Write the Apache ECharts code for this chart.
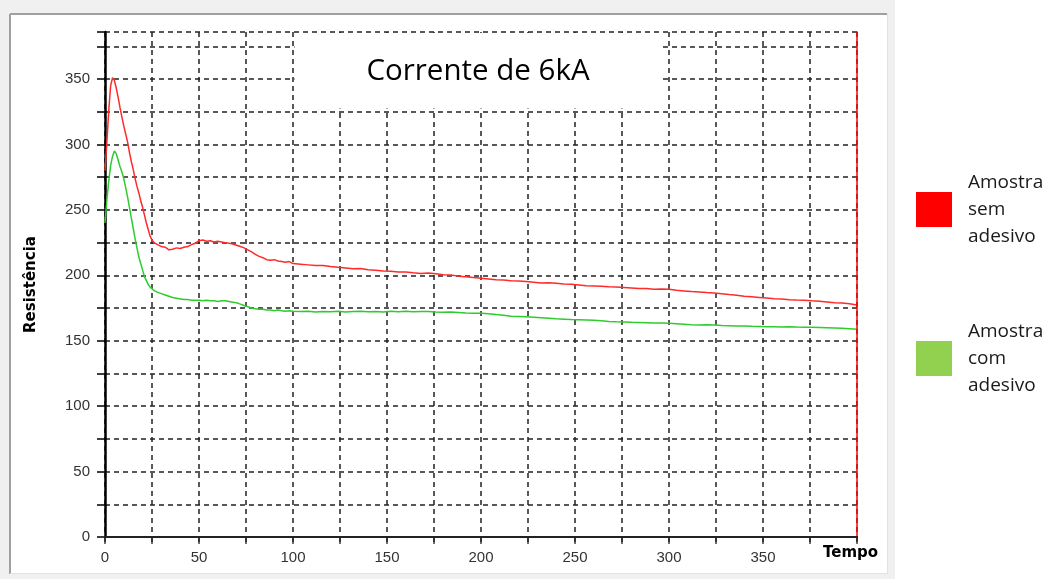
<!DOCTYPE html>
<html><head><meta charset="utf-8">
<script src="https://cdn.jsdelivr.net/npm/echarts@6/dist/echarts.min.js"></script>
<style>html,body{margin:0;padding:0;background:#fff}#c{width:1052px;height:579px}</style>
</head><body><div id="c"></div>
<script>
const tempo = [0,1,2,3,4,5,6,7,8,9,10,11,12,13,14,15,16,17,18,19,20,21,22,23,24,25,26,27,28,29,30,
  32,34,36,38,40,42,44,46,48,50,52,54,56,58,60,62,64,66,68,70,72,74,76,78,80,82,84,86,88,90,92,94,96,98,100,
  104,108,112,116,120,124,128,132,136,140,144,148,152,156,160,164,168,172,176,180,184,188,192,196,200,
  204,208,212,216,220,224,228,232,236,240,244,248,252,256,260,264,268,272,276,280,284,288,292,296,300,
  304,308,312,316,320,324,328,332,336,340,344,348,352,356,360,364,368,372,376,380,384,388,392,396,400];
const semAdesivo = [280,302,326,345,351,349,343,336,328,321,314,308,302,294,287,281,274,268,263,257,252,246,240,235,230,227,225,224,223.5,222.5,222,
  221.5,219.5,220,221,220.5,221.5,222,223.5,224.5,226.5,227,226,226.5,225.5,226,225.5,225,224.5,224,223,222,221,219.5,218,216,214.5,213.5,212,211.5,212,211,210.5,210,210.5,209,
  208.5,208,207.5,207.6,206.8,206.2,205.7,205,205.2,204.2,203.8,203.4,203.1,202.5,202.6,202,201.5,201.8,201.2,200.5,200.2,199.4,199,198.3,197.8,
  197.2,196.6,196.4,195.8,195.6,195.3,194.8,194.2,194.3,194,193.4,193.1,192.7,192.1,191.9,191.6,191.2,191.1,190.8,190.4,190,189.9,189.4,189.6,189.3,
  188.6,188.1,187.6,187.3,186.8,186.5,186,185.3,184.8,184.1,183.6,183.1,182.6,182.1,181.9,181.4,181.1,180.9,180.5,180.2,179.7,179.1,178.8,178.2,177.4];
const comAdesivo = [240,258,272,284,291,295,293,288,283,279,274,267,260,252,244,236,228,221,214,209,204,199,196,193,191,189.5,188.5,187.5,187,186.5,186,
  185,184,183,182.5,182,181.5,181.5,181,181,181,180.5,181,180.5,180.5,180,180.5,180.5,180,179.5,179,178,177,176,175,174.5,174,174,173.5,173.5,173,173.5,173,172.5,173,172.5,
  172.3,172.5,172,172.4,172.2,172.5,172,172.3,172.6,172.1,172.4,172,172.5,172.2,172.6,172.1,172.3,172.4,172,171.8,172,171.6,171.2,171,171,
  170.6,170,169.5,168.8,168.6,168.3,168,167.6,167.2,166.8,166.5,166.2,166,165.8,165.6,165.2,164.8,164.5,164.3,164.1,164,163.8,163.6,163.5,163.4,
  163,162.6,162.2,162,162.2,162,161.7,161.5,161.3,161.2,161,160.9,160.8,160.7,160.6,160.7,160.5,160.4,160.4,160.2,160,159.8,159.5,159.2,158.8];
const xTickLabels = [0,50,100,150,200,250,300,350];
const yTickLabels = [0,50,100,150,200,250,300,350];
const seriesNames = ['Amostra sem adesivo', 'Amostra com adesivo'];
const titleText = 'Corrente de 6kA';

const chart = echarts.init(document.getElementById('c'), null, {renderer: 'canvas'});
const grid = '#222';
const labelStyle = {color: '#333', fontFamily: 'Liberation Sans, Arial, sans-serif', fontSize: 15};
const option = {
  animation: false,
  backgroundColor: '#fff',
  grid: {left: 105, right: 195, top: 32, bottom: 42, containLabel: false},
  legend: {
    orient: 'vertical', left: 911, top: 164, itemWidth: 36, itemHeight: 35, itemGap: 68,
    icon: 'rect', selectedMode: false,
    formatter: n => n.replace(/ /g, '\n'),
    textStyle: {fontFamily: 'Open Sans, sans-serif', fontSize: 19, lineHeight: 27, color: '#1a1a1a', padding: [0, 0, 0, 11]},
    data: [
      {name: seriesNames[0], itemStyle: {color: '#ff0000', borderWidth: 0}},
      {name: seriesNames[1], itemStyle: {color: '#92d050', borderWidth: 0}}
    ]
  },
  xAxis: [
    {type: 'value', min: 0, max: 400, interval: 25, position: 'bottom',
     axisLine: {show: true, onZero: false, lineStyle: {color: '#404040', width: 2}},
     axisTick: {show: true, length: 7, lineStyle: {color: '#404040', width: 1.5}},
     axisLabel: Object.assign({formatter: v => xTickLabels.includes(v) ? String(v) : '', margin: 13}, labelStyle),
     splitLine: {show: true, lineStyle: {color: grid, type: [5, 4], width: 1.5}},
     name: 'Tempo', nameLocation: 'end', nameGap: -34,
     nameTextStyle: {fontFamily: 'DejaVu Sans', fontWeight: 'bold', fontSize: 15, color: '#000', verticalAlign: 'top', padding: [9, 0, 0, 0]}},
    {type: 'value', min: 0, max: 400, interval: 25, position: 'top', z: 5,
     axisLine: {show: true, lineStyle: {color: '#222', width: 2}},
     axisTick: {show: true, inside: true, length: 5, lineStyle: {color: '#222', width: 1.5}},
     axisLabel: {show: false}, splitLine: {show: false}}
  ],
  yAxis: [
    {type: 'value', min: 0, max: 386, interval: 25,
     axisLine: {show: true, onZero: false, lineStyle: {color: '#000', width: 2.5}},
     axisTick: {show: true, length: 8, lineStyle: {color: '#000', width: 1.5}},
     axisLabel: Object.assign({formatter: v => yTickLabels.includes(v) ? String(v) : '', margin: 15}, labelStyle),
     splitLine: {show: true, lineStyle: {color: grid, type: [5, 4], width: 1.5}},
     name: 'Resistência', nameLocation: 'middle', nameGap: 66,
     nameTextStyle: {fontFamily: 'DejaVu Sans', fontWeight: 'bold', fontSize: 15, color: '#000'}},
    {type: 'value', min: 0, max: 386, position: 'right', z: 5,
     axisLine: {show: true, onZero: false, lineStyle: {color: '#ff0000', width: 1.5}},
     axisTick: {show: false}, axisLabel: {show: false}, splitLine: {show: false}}
  ],
  series: [
    {type: 'line', name: seriesNames[0], xAxisIndex: 0, yAxisIndex: 0, z: 4,
     data: tempo.map((t, i) => [t, semAdesivo[i]]), showSymbol: false, symbol: 'none',
     lineStyle: {color: '#ff2a2a', width: 1.5}, itemStyle: {color: '#ff0000'}},
    {type: 'line', name: seriesNames[1], xAxisIndex: 0, yAxisIndex: 0, z: 4,
     data: tempo.map((t, i) => [t, comAdesivo[i]]), showSymbol: false, symbol: 'none',
     lineStyle: {color: '#2ecc2e', width: 1.5}, itemStyle: {color: '#92d050'}}
  ]
};
chart.setOption(option);

const a = chart.convertToPixel({xAxisIndex: 0, yAxisIndex: 0}, [100.8, 386]);
const b = chart.convertToPixel({xAxisIndex: 0, yAxisIndex: 0}, [296, 327.5]);
chart.setOption({
  graphic: {elements: [
    {type: 'rect', id: 'bg', z: -20, silent: true, shape: {x: 0, y: 0, width: 895, height: 579}, style: {fill: '#f0f0f0'}},
    {type: 'rect', id: 'panel', z: -19, silent: true, shape: {x: 11, y: 15, width: 876, height: 558}, style: {fill: '#ffffff'}},
    {type: 'line', id: 'bt', z: -18, silent: true, shape: {x1: 10, y1: 14, x2: 887, y2: 14}, style: {stroke: '#a0a0a0', lineWidth: 2}},
    {type: 'line', id: 'bl', z: -18, silent: true, shape: {x1: 10, y1: 14, x2: 10, y2: 574}, style: {stroke: '#a0a0a0', lineWidth: 2}},
    {type: 'line', id: 'br', z: -18, silent: true, shape: {x1: 887.5, y1: 14, x2: 887.5, y2: 574}, style: {stroke: '#e2e2e2', lineWidth: 1}},
    {type: 'line', id: 'bb', z: -18, silent: true, shape: {x1: 10, y1: 573.5, x2: 888, y2: 573.5}, style: {stroke: '#e2e2e2', lineWidth: 1}},
    {type: 'rect', id: 'tbox', z: 1, silent: true, shape: {x: a[0], y: a[1] + 1, width: b[0] - a[0], height: b[1] - a[1] - 1}, style: {fill: '#ffffff'}},
    {type: 'text', id: 'ttl', z: 10, silent: true, x: (a[0] + b[0]) / 2, y: (a[1] + b[1]) / 2 + 1,
     style: {text: titleText, fill: '#000', font: '29.5px "Open Sans", sans-serif', textAlign: 'center', textVerticalAlign: 'middle'}}
  ]}
});
</script></body></html>
